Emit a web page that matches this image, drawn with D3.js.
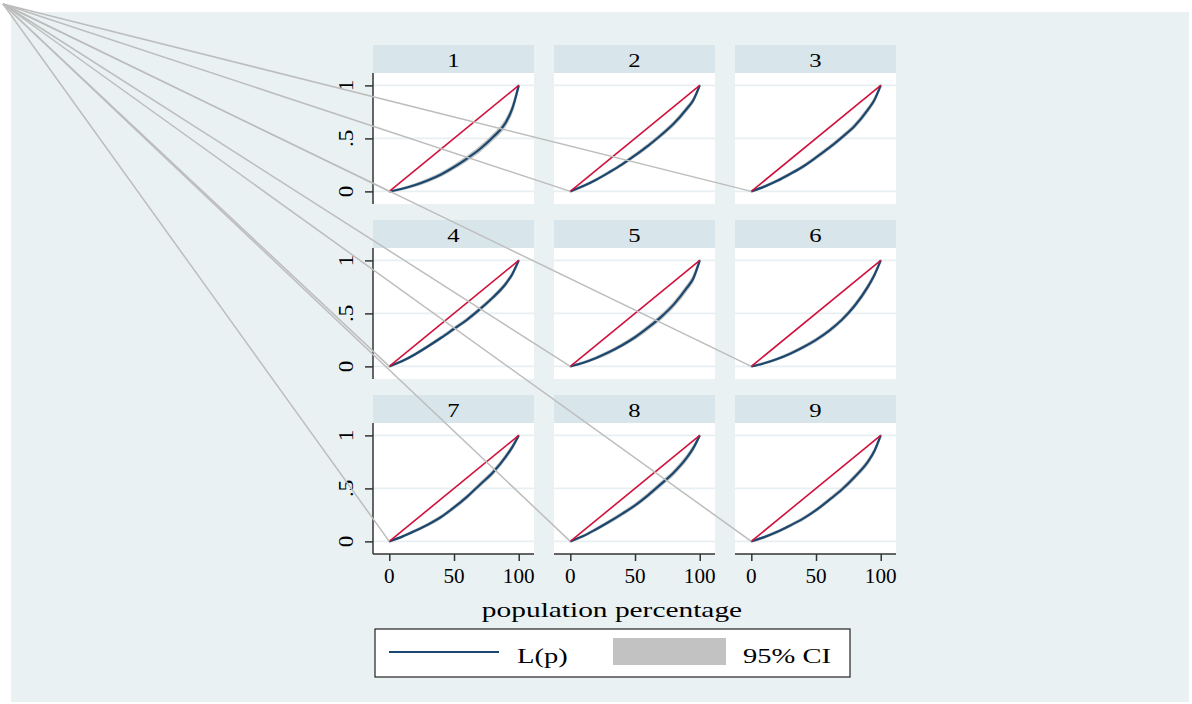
<!DOCTYPE html>
<html>
<head>
<meta charset="utf-8">
<script src="https://cdn.jsdelivr.net/npm/d3@7"></script>
<style>
  html, body { margin: 0; padding: 0; background: #ffffff; }
  svg { display: block; }
  text { font-family: "Liberation Serif", "Times New Roman", serif; fill: #000; }
</style>
</head>
<body>
<svg id="chart" width="1192" height="704"></svg>
<script>
// Groups shown one per panel
const groups = ["1", "2", "3", "4", "5", "6", "7", "8", "9"];

// Cumulative population share (percent) at which L(p) is evaluated
const pop = [0, 10, 20, 30, 40, 50, 60, 70, 80, 90, 95, 100];

// Lorenz ordinates L(p) for each group
const lorenz1 = [0, 0.025, 0.06, 0.105, 0.16, 0.23, 0.31, 0.40, 0.51, 0.65, 0.78, 1];
const lorenz2 = [0, 0.05, 0.11, 0.18, 0.255, 0.34, 0.43, 0.53, 0.64, 0.78, 0.86, 1];
const lorenz3 = [0, 0.045, 0.10, 0.165, 0.235, 0.32, 0.41, 0.51, 0.62, 0.77, 0.86, 1];
const lorenz4 = [0, 0.05, 0.115, 0.19, 0.27, 0.355, 0.44, 0.54, 0.65, 0.78, 0.87, 1];
const lorenz5 = [0, 0.035, 0.08, 0.135, 0.20, 0.275, 0.365, 0.465, 0.585, 0.74, 0.83, 1];
const lorenz6 = [0, 0.03, 0.07, 0.12, 0.18, 0.25, 0.335, 0.44, 0.575, 0.75, 0.86, 1];
const lorenz7 = [0, 0.045, 0.10, 0.16, 0.23, 0.32, 0.42, 0.535, 0.65, 0.80, 0.89, 1];
const lorenz8 = [0, 0.05, 0.115, 0.185, 0.26, 0.34, 0.435, 0.54, 0.65, 0.79, 0.88, 1];
const lorenz9 = [0, 0.04, 0.09, 0.15, 0.215, 0.295, 0.39, 0.49, 0.61, 0.75, 0.85, 1];

// Half-width of the 95% confidence band around L(p)
const ciHalf1 = [0, 0.004, 0.007, 0.009, 0.011, 0.013, 0.015, 0.017, 0.019, 0.02, 0.018, 0];
const ciHalf2 = [0, 0.003, 0.005, 0.006, 0.007, 0.008, 0.009, 0.010, 0.011, 0.012, 0.010, 0];
const ciHalf3 = [0, 0.003, 0.005, 0.006, 0.007, 0.008, 0.009, 0.010, 0.011, 0.012, 0.010, 0];
const ciHalf4 = [0, 0.003, 0.005, 0.006, 0.007, 0.008, 0.009, 0.010, 0.010, 0.011, 0.009, 0];
const ciHalf5 = [0, 0.003, 0.006, 0.008, 0.009, 0.011, 0.013, 0.015, 0.016, 0.017, 0.015, 0];
const ciHalf6 = [0, 0.003, 0.005, 0.006, 0.007, 0.008, 0.009, 0.010, 0.011, 0.012, 0.010, 0];
const ciHalf7 = [0, 0.003, 0.005, 0.006, 0.007, 0.008, 0.009, 0.010, 0.011, 0.012, 0.010, 0];
const ciHalf8 = [0, 0.003, 0.006, 0.008, 0.009, 0.010, 0.011, 0.012, 0.013, 0.014, 0.012, 0];
const ciHalf9 = [0, 0.003, 0.005, 0.006, 0.007, 0.008, 0.009, 0.010, 0.011, 0.012, 0.010, 0];

const lorenz = [lorenz1, lorenz2, lorenz3, lorenz4, lorenz5, lorenz6, lorenz7, lorenz8, lorenz9];
const ciHalf = [ciHalf1, ciHalf2, ciHalf3, ciHalf4, ciHalf5, ciHalf6, ciHalf7, ciHalf8, ciHalf9];

// Axis ticks
const xTicks = [0, 50, 100];
const yTicks = [0, 0.5, 1];
const yTickLabels = ["0", ".5", "1"];

// Equality line end points
const equality = [[0, 0], [100, 1]];

// Text labels
const xTitle = "population percentage";
const legendLabels = ["L(p)", "95% CI"];

// ---------------------------------------------------------------- layout
const svg = d3.select("#chart");
const colors = {
  page: "#ffffff",
  region: "#eaf1f3",
  strip: "#d8e5eb",
  plot: "#ffffff",
  grid: "#e7eff2",
  axis: "#333333",
  curve: "#1a476f",
  equal: "#d1113b",
  band: "#c2c2c2",
  bandEdge: "#bdbdbd"
};

const W = 1192, H = 704;
const region = { x: 11, y: 12, w: W - 11 - 3, h: H - 12 - 2 };
const panel = { w: 161, stripH: 28, plotH: 131 };
const colX = [373, 554, 735];
const rowY = [45, 220, 395];
const NCOL = 3;

// text placed with an optional rotation and a horizontal stretch
function stretched(g, x, y, sx, rotate) {
  return g.attr("transform", `translate(${x},${y})` + (rotate ? ` rotate(${rotate})` : "") + ` scale(${sx},1)`);
}

svg.append("rect").attr("width", W).attr("height", H).attr("fill", colors.page);
svg.append("rect")
  .attr("x", region.x).attr("y", region.y)
  .attr("width", region.w).attr("height", region.h)
  .attr("fill", colors.region);

const x = d3.scaleLinear().domain([-12.6, 111.8]).range([0, panel.w]);
const y = d3.scaleLinear().domain([-0.119, 1.117]).range([panel.plotH, 0]);

const line = d3.line()
  .x(d => x(d[0])).y(d => y(d[1]))
  .curve(d3.curveMonotoneX);

const bandArea = d3.area()
  .x(d => x(d.p))
  .y0(d => y(d.lo)).y1(d => y(d.hi))
  .curve(d3.curveMonotoneX);

groups.forEach((name, i) => {
  const col = i % NCOL, row = Math.floor(i / NCOL);
  const px = colX[col], py = rowY[row];
  const g = svg.append("g").attr("transform", `translate(${px},${py})`);

  // strip with group label
  g.append("rect").attr("width", panel.w).attr("height", panel.stripH).attr("fill", colors.strip);
  stretched(g.append("text"), panel.w / 2, 21.5, 1.3)
    .attr("text-anchor", "middle").attr("font-size", 19).text(name);

  const pg = g.append("g").attr("transform", `translate(0,${panel.stripH})`);
  pg.append("rect").attr("width", panel.w).attr("height", panel.plotH).attr("fill", colors.plot);

  // horizontal grid
  pg.selectAll("line.grid").data(yTicks).join("line")
    .attr("class", "grid")
    .attr("x1", 0).attr("x2", panel.w)
    .attr("y1", d => y(d)).attr("y2", d => y(d))
    .attr("stroke", colors.grid).attr("stroke-width", 1.6);

  const pts = pop.map((p, k) => [p, lorenz[i][k]]);
  const band = pop.map((p, k) => ({
    p,
    lo: Math.max(0, lorenz[i][k] - ciHalf[i][k]),
    hi: Math.min(1, lorenz[i][k] + ciHalf[i][k])
  }));

  // confidence band; its outline begins at the drawing origin of the page
  pg.append("path").attr("d", bandArea(band))
    .attr("fill", colors.band).attr("stroke", colors.band).attr("stroke-width", 2.2)
    .attr("stroke-linejoin", "round");
  const origin = [x(0) + px, y(0) + py + panel.stripH];
  svg.append("path")
    .attr("d", d3.line()([[3, 4], origin]))
    .attr("stroke", colors.bandEdge).attr("stroke-width", 1.5).attr("fill", "none");

  // Lorenz curve and line of equality
  pg.append("path").attr("d", line(pts))
    .attr("fill", "none").attr("stroke", colors.curve).attr("stroke-width", 2.2)
    .attr("stroke-linejoin", "round");
  pg.append("path").attr("d", d3.line().x(d => x(d[0])).y(d => y(d[1]))(equality))
    .attr("fill", "none").attr("stroke", colors.equal).attr("stroke-width", 1.6);

  // y axis on the first column
  if (col === 0) {
    const ax = pg.append("g")
      .call(d3.axisLeft(y).tickValues(yTicks).tickSize(8).tickFormat(""));
    ax.select(".domain").attr("stroke", colors.axis).attr("stroke-width", 1.5)
      .attr("d", `M0,0V${panel.plotH}`);
    ax.selectAll(".tick line").attr("stroke", colors.axis).attr("stroke-width", 1.5);
    yTicks.forEach((t, k) => {
      stretched(pg.append("text"), -20, y(t), 1.05, -90)
        .attr("text-anchor", "middle").attr("font-size", 22).text(yTickLabels[k]);
    });
  }

  // x axis on the bottom row
  if (row === 2) {
    const ax = pg.append("g").attr("transform", `translate(0,${panel.plotH})`)
      .call(d3.axisBottom(x).tickValues(xTicks).tickSize(7).tickFormat(""));
    ax.select(".domain").attr("stroke", colors.axis).attr("stroke-width", 1.5)
      .attr("d", `M0,0H${panel.w}`);
    ax.selectAll(".tick line").attr("stroke", colors.axis).attr("stroke-width", 1.5);
    xTicks.forEach(t => {
      stretched(pg.append("text"), x(t), panel.plotH + 28.5, 1.06)
        .attr("text-anchor", "middle").attr("font-size", 20).text(String(t));
    });
  }
});

// axis title
stretched(svg.append("text"), 612, 616.5, 1.4)
  .attr("text-anchor", "middle").attr("font-size", 21).text(xTitle);

// legend
const lg = svg.append("g").attr("transform", "translate(375,629)");
lg.append("rect").attr("width", 475).attr("height", 48)
  .attr("fill", "#ffffff").attr("stroke", "#222").attr("stroke-width", 1.2);
lg.append("line").attr("x1", 14).attr("x2", 124).attr("y1", 23).attr("y2", 23)
  .attr("stroke", colors.curve).attr("stroke-width", 2);
stretched(lg.append("text"), 142, 34, 1.36).attr("font-size", 21).text(legendLabels[0]);
lg.append("rect").attr("x", 238).attr("y", 9).attr("width", 113).attr("height", 27)
  .attr("fill", colors.band);
stretched(lg.append("text"), 368, 34, 1.36).attr("font-size", 21).text(legendLabels[1]);
</script>
</body>
</html>
